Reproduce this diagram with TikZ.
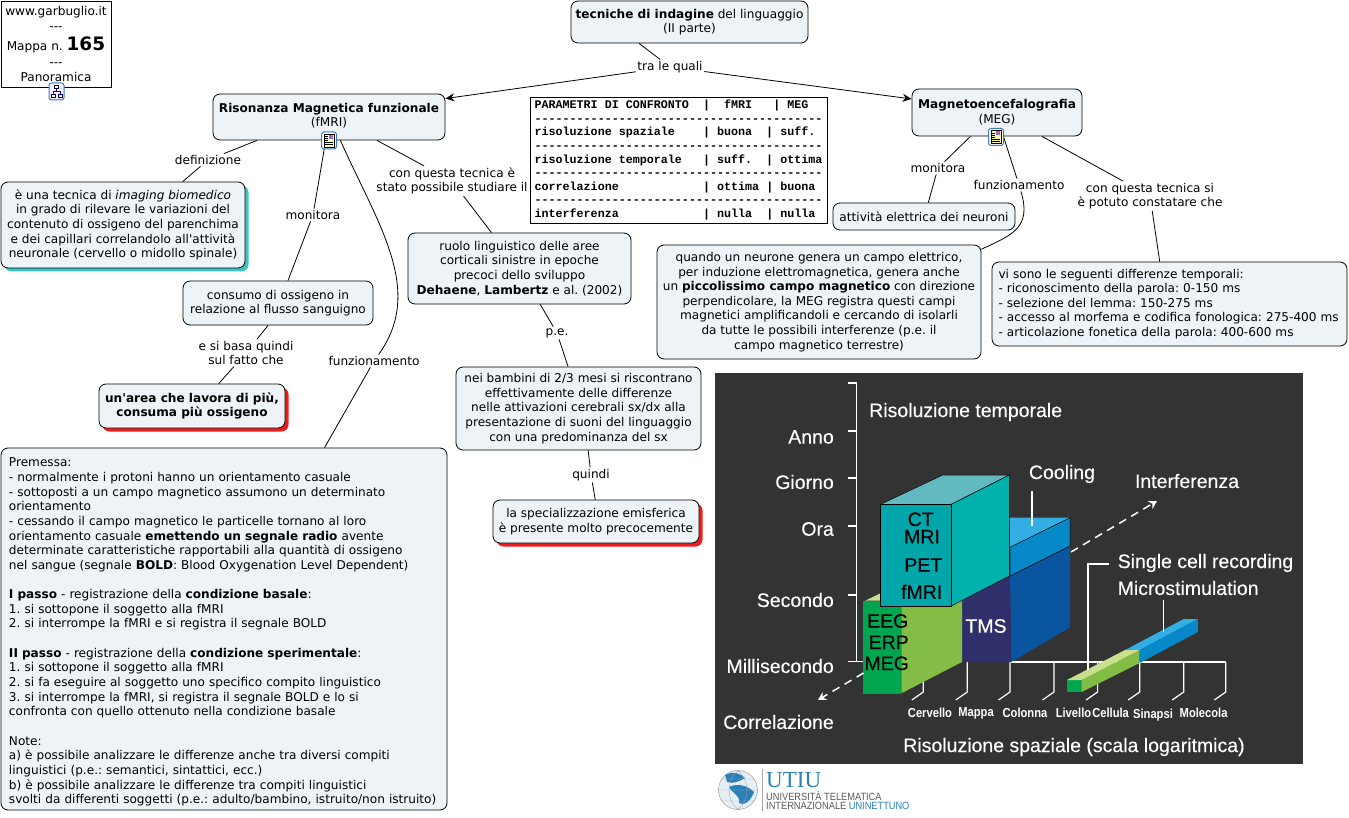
\documentclass[tikz,border=0pt]{standalone}
\usepackage{fontspec}
\usepackage{xcolor}
\usetikzlibrary{arrows.meta,shadows}
\newfontfamily\mapfont{DejaVu Sans}
\newfontfamily\tabfont{Liberation Mono}
\newfontfamily\imgfont{Liberation Sans}[FakeBold=0.25]
\newfontfamily\imgnarrow{Liberation Sans}[FakeStretch=0.86]
\newfontfamily\logofont{Liberation Sans}[FakeStretch=0.88]
\newfontfamily\logoserif{Liberation Serif}
\newcommand\mapsize{\mapfont\fontsize{12.1}{14.65}\selectfont}
\newcommand\tabrule{-----------------------------------------}
\definecolor{boxfill}{HTML}{EDF3F6}
\definecolor{tealshadow}{HTML}{3FC4C4}
\definecolor{redshadow}{HTML}{EE1C1C}
\definecolor{imgdark}{HTML}{333333}
\definecolor{logoblue}{HTML}{2A7FB8}
\definecolor{iconblue}{HTML}{3C78C8}
\definecolor{ctfront}{HTML}{00A6AA}
\definecolor{ctside}{HTML}{00B0AD}
\definecolor{cttop}{HTML}{62BAC0}
\definecolor{coolside}{HTML}{0788C9}
\definecolor{cooltop}{HTML}{33AEE3}
\definecolor{deepblue}{HTML}{0A559F}
\definecolor{tmsfront}{HTML}{2F2F6B}
\definecolor{eegfront}{HTML}{00A64F}
\definecolor{eegside}{HTML}{83BD46}
\definecolor{eegtop}{HTML}{C8DF8E}
\tikzset{
  mapbox/.style={draw, fill=boxfill, rounded corners=7pt, align=center, inner sep=0pt, font=\mapsize, line width=.8pt},
  linkword/.style={fill=white, align=center, inner sep=1.5pt, font=\mapsize},
  link/.style={line width=.8pt},
  imglabel/.style={text=white, inner sep=0pt, font=\imgfont\fontsize{19.5}{21}\selectfont},
  scalelabel/.style={text=white, inner sep=0pt, font=\imgnarrow\bfseries\fontsize{13}{15}\selectfont},
  blocklabel/.style={text=black, inner sep=0pt, font=\imgfont\fontsize{19.5}{21}\selectfont},
  whiteline/.style={white, line width=1.2pt},
  dashline/.style={white, line width=1.5pt, dash pattern=on 8pt off 6pt, -{Stealth[length=8pt,width=9pt]}},
  noteicon/.pic={
    \draw[draw=iconblue, fill=white, rounded corners=2.5pt, line width=1pt] (-7.5,-8.5) rectangle (7.5,8.5);
    \draw[fill=yellow!35, line width=.6pt] (-5,-6.5) rectangle (5,6.5);
    \fill[blue!55] (0,-5.5) rectangle (4,-1.5);
    \fill[red!70] (2,-5) rectangle (4,-3);
    \foreach \ly in {-4,-2,0,2,4} \draw[line width=.7pt] (-4,\ly) -- (\ifnum\ly<1 -1\else 4\fi,\ly);
  },
  treeicon/.pic={
    \draw[draw=iconblue, fill=blue!6, rounded corners=2.5pt, line width=1pt] (-7.5,-8.5) rectangle (7.5,8.5);
    \draw[blue!40!black, line width=.6pt] (0,-3) -- (0,0) (-3.5,3) -- (-3.5,0) -- (3.5,0) -- (3.5,3);
    \draw[blue!40!black, fill=yellow!30, line width=.6pt] (-2,-6.5) rectangle (2,-3) (-5.5,2.5) rectangle (-1.5,6) (1.5,2.5) rectangle (5.5,6);
  }
}
\frenchspacing
\begin{document}
\begin{tikzpicture}[x=1pt, y=-1pt]
  \useasboundingbox (0,0) rectangle (1349,818);

  % concept map
  \node[draw, fill=white, align=center, inner sep=0pt, font=\mapsize, line width=.8pt, minimum width=110pt, minimum height=86pt] (sito) at (56,44)
    {www.garbuglio.it\\---\\[5pt]Mappa n. {\bfseries\fontsize{18.5}{14.65}\selectfont 165}\\[2pt]---\\Panoramica};
  \node[mapbox, minimum width=237pt, minimum height=42pt] (tecniche) at (689.5,22)
    {{\bfseries tecniche di indagine} del linguaggio\\(II parte)};
  \node[linkword] (trale) at (670,67) {tra le quali};
  \node[mapbox, minimum width=232pt, minimum height=46pt] (risonanza) at (329,117)
    {{\bfseries Risonanza Magnetica funzionale}\\(fMRI)\rule[-4pt]{0pt}{0pt}};
  \node[mapbox, minimum width=170pt, minimum height=47pt] (magneto) at (997,112.5)
    {{\bfseries Magnetoencefalografia}\\(MEG)\rule[-2pt]{0pt}{0pt}};
  \node[linkword] (definizione) at (208,160) {definizione};
  \node[mapbox, minimum width=244pt, minimum height=86pt, copy shadow={shadow xshift=3.5pt, shadow yshift=-3.5pt, fill=tealshadow, draw=none}] (defbox) at (123,225)
    {è una tecnica di \textit{imaging biomedico}\\in grado di rilevare le variazioni del\\contenuto di ossigeno del parenchima\\e dei capillari correlandolo all'attività\\neuronale (cervello o midollo spinale)};
  \node[linkword] (monitoraf) at (313,215) {monitora};
  \node[mapbox, minimum width=190pt, minimum height=44pt] (consumo) at (278,303)
    {consumo di ossigeno in\\relazione al flusso sanguigno};
  \node[linkword] (sibasa) at (246,353) {e si basa quindi\\sul fatto che};
  \node[mapbox, minimum width=186pt, minimum height=44pt, copy shadow={shadow xshift=3.5pt, shadow yshift=-3.5pt, fill=redshadow, draw=none}] (area) at (192,406)
    {{\bfseries un'area che lavora di più,}\\{\bfseries consuma più ossigeno}};
  \node[linkword] (funzf) at (374,361) {funzionamento};
  \node[mapbox, align=left, minimum width=446pt, minimum height=362pt, text width=430pt] (premessa) at (224,629)
    {\rule{0pt}{15pt}Premessa:\\
    - normalmente i protoni hanno un orientamento casuale\\
    - sottoposti a un campo magnetico assumono un determinato\\
    orientamento\\
    - cessando il campo magnetico le particelle tornano al loro\\
    orientamento casuale {\bfseries emettendo un segnale radio} avente\\
    determinate caratteristiche rapportabili alla quantità di ossigeno\\
    nel sangue (segnale {\bfseries BOLD}: Blood Oxygenation Level Dependent)\\[14.65pt]
    {\bfseries I passo} - registrazione della {\bfseries condizione basale}:\\
    1. si sottopone il soggetto alla fMRI\\
    2. si interrompe la fMRI e si registra il segnale BOLD\\[14.65pt]
    {\bfseries II passo} - registrazione della {\bfseries condizione sperimentale}:\\
    1. si sottopone il soggetto alla fMRI\\
    2. si fa eseguire al soggetto uno specifico compito linguistico\\
    3. si interrompe la fMRI, si registra il segnale BOLD e lo si\\
    confronta con quello ottenuto nella condizione basale\\[14.65pt]
    Note:\\
    a) è possibile analizzare le differenze anche tra diversi compiti\\
    linguistici (p.e.: semantici, sintattici, ecc.)\\
    b) è possibile analizzare le differenze tra compiti linguistici\\
    svolti da differenti soggetti (p.e.: adulto/bambino, istruito/non istruito)};
  \node[linkword] (studiare) at (452,181) {con questa tecnica è\\stato possibile studiare il};
  \node[mapbox, minimum width=223pt, minimum height=71pt] (ruolo) at (519.5,268.5)
    {ruolo linguistico delle aree\\corticali sinistre in epoche\\precoci dello sviluppo\\{\bfseries Dehaene}, {\bfseries Lambertz} e al. (2002)};
  \node[linkword] (pe) at (557,333) {p.e.};
  \node[mapbox, minimum width=245pt, minimum height=83pt] (bambini) at (578.5,408.5)
    {nei bambini di 2/3 mesi si riscontrano\\effettivamente delle differenze\\nelle attivazioni cerebrali sx/dx alla\\presentazione di suoni del linguaggio\\con una predominanza del sx};
  \node[linkword] (quindi) at (591,475) {quindi};
  \node[mapbox, minimum width=206pt, minimum height=43pt, copy shadow={shadow xshift=3.5pt, shadow yshift=-3.5pt, fill=redshadow, draw=none}] (special) at (596,521.5)
    {la specializzazione emisferica\\è presente molto precocemente};
  \node[draw, fill=white, align=left, inner sep=0pt, line width=.8pt, minimum width=297pt, minimum height=126pt, font=\tabfont\bfseries\fontsize{11.7}{13.6}\selectfont] (tabella) at (678.5,160)
    {PARAMETRI DI CONFRONTO~~|~~fMRI~~~|~MEG~~~\\
    \tabrule\\
    risoluzione spaziale~~~~|~buona~~|~suff.~\\
    \tabrule\\
    risoluzione temporale~~~|~suff.~~|~ottima\\
    \tabrule\\
    correlazione~~~~~~~~~~~~|~ottima~|~buona~\\
    \tabrule\\
    interferenza~~~~~~~~~~~~|~nulla~~|~nulla~};
  \node[linkword] (monitoram) at (938,168) {monitora};
  \node[mapbox, minimum width=182pt, minimum height=27pt] (attivita) at (924,216.5) {attività elettrica dei neuroni};
  \node[linkword] (funzm) at (1019,185) {funzionamento};
  \node[mapbox, minimum width=324pt, minimum height=114pt] (quando) at (819,302)
    {quando un neurone genera un campo elettrico,\\per induzione elettromagnetica, genera anche\\un {\bfseries piccolissimo campo magnetico} con direzione\\perpendicolare, la MEG registra questi campi\\magnetici amplificandoli e cercando di isolarli\\da tutte le possibili interferenze (p.e. il\\campo magnetico terrestre)};
  \node[linkword] (constatare) at (1150,196) {con questa tecnica si\\è potuto constatare che};
  \node[mapbox, align=left, minimum width=355pt, minimum height=84pt, text width=342pt] (differenze) at (1169.5,304)
    {vi sono le seguenti differenze temporali:\\
    - riconoscimento della parola: 0-150 ms\\
    - selezione del lemma: 150-275 ms\\
    - accesso al morfema e codifica fonologica: 275-400 ms\\
    - articolazione fonetica della parola: 400-600 ms};

  \draw[link] (tecniche.203) -- (trale);
  \draw[link, -{Stealth[length=9pt,width=8pt]}] (trale) -- (risonanza.9);
  \draw[link, -{Stealth[length=9pt,width=8pt]}] (trale) -- (magneto.171);
  \draw[link] (risonanza.198) -- (definizione);
  \draw[link] (definizione) -- (defbox.36);
  \draw[link] (risonanza.262) -- (monitoraf);
  \draw[link] (monitoraf) -- (consumo.66);
  \draw[link] (consumo.246) -- (sibasa);
  \draw[link] (sibasa) -- (area.40);
  \draw[link] (risonanza.296) .. controls (378,225) and (425,290) .. (funzf);
  \draw[link] (funzf) -- (premessa.61);
  \draw[link] (risonanza.334) -- (studiare);
  \draw[link] (studiare) -- (ruolo.128);
  \draw[link] (ruolo.300) -- (pe);
  \draw[link] (pe) -- (bambini.104);
  \draw[link] (bambini.283) -- (quindi);
  \draw[link] (quindi) -- (special.92);
  \draw[link] (magneto.222) -- (monitoram);
  \draw[link] (monitoram) -- (attivita.73);
  \draw[link] (magneto.285) -- (funzm);
  \draw[link] (funzm) .. controls (1032,228) and (1012,235) .. (quando.18);
  \draw[link] (magneto.332) -- (constatare);
  \draw[link] (constatare) -- (differenze.103);

  \pic at (56.5,91.5) {treeicon};
  \pic at (329,140.5) {noteicon};
  \pic at (996,137) {noteicon};

  % picture of the techniques
  \fill[imgdark] (715,373) rectangle (1303,764);
  \draw[whiteline] (848,383) -- (856.7,383) -- (856.7,661.5) (848,661.5) -- (864,661.5)
    (848,431) -- (856.7,431) (848,478) -- (856.7,478) (848,526) -- (856.7,526) (848,595) -- (856.7,595);
  \draw[whiteline] (1011,662) -- (1226,662);
  \foreach \tx in {923.3,967.3,1010,1054,1097.6,1139.7,1183.7,1225.8}
    \draw[whiteline] (\tx,662) -- (\tx,692) -- (\tx-11.5,700);
  \node[imglabel, anchor=east] (anno) at (834,437) {Anno};
  \node[imglabel, anchor=east] (giorno) at (834,482) {Giorno};
  \node[imglabel, anchor=east] (ora) at (834,529) {Ora};
  \node[imglabel, anchor=east] (secondo) at (834,600) {Secondo};
  \node[imglabel, anchor=east] (milli) at (834,666) {Millisecondo};
  \node[imglabel, anchor=east] (correlazione) at (834,722) {Correlazione};
  \node[imglabel, anchor=west] (temporale) at (869,412) {Risoluzione temporale};
  \node[imglabel] (cooling) at (1062,474) {Cooling};
  \node[imglabel] (interferenza) at (1187,481) {Interferenza};
  \node[imglabel, anchor=west] (single) at (1117.5,563) {Single cell recording};
  \node[imglabel, anchor=west] (micro) at (1117.5,588) {Microstimulation};
  \node[imglabel] (spaziale) at (1074,747) {Risoluzione spaziale (scala logaritmica)};
  \node[scalelabel] (cervello) at (930,713) {Cervello};
  \node[scalelabel] (mappa) at (976,713) {Mappa};
  \node[scalelabel] (colonna) at (1025,713) {Colonna};
  \node[scalelabel] (livello) at (1073.5,713) {Livello};
  \node[scalelabel] (cellula) at (1110.6,713) {Cellula};
  \node[scalelabel] (sinapsi) at (1153,715) {Sinapsi};
  \node[scalelabel] (molecola) at (1203.6,713) {Molecola};

  % blocks
  \fill[deepblue] (1010,576) -- (1070,546) -- (1070,627.3) -- (1011.3,662) -- cycle;
  \fill[tmsfront] (962,600.7) -- (1010,576) -- (1011.3,662) -- (962,662) -- cycle;
  \fill[eegside] (901.3,600) -- (962,600) -- (962,662) -- (901.3,693.3) -- cycle;
  \fill[eegfront] (863.3,600.7) rectangle (901.3,694);
  \fill[eegtop] (865,600.7) -- (880.7,593.3) -- (880.7,600.7) -- cycle;
  \fill[cooltop] (1009.3,517.7) -- (1070,517.7) -- (1010,547.3) -- cycle;
  \draw[black, line width=.5pt, fill=coolside] (1010,547.3) -- (1070,517.7) -- (1070,546) -- (1010,576) -- cycle;
  \draw[black, line width=.5pt, fill=cttop] (880.7,504.3) -- (942.7,475) -- (1009.3,475) -- (951.3,504.3) -- cycle;
  \draw[black, line width=.5pt, fill=ctside] (951.3,504.3) -- (1009.3,475) -- (1009.3,576) -- (951.3,606) -- cycle;
  \draw[black, line width=.5pt, fill=ctfront] (880.7,504.3) rectangle (951.3,606);
  \node[blocklabel] (ct) at (920.7,519.3) {CT};
  \node[blocklabel] (mri) at (922,536.7) {MRI};
  \node[blocklabel] (pet) at (923.3,565) {PET};
  \node[blocklabel] (fmri) at (921.7,591.7) {fMRI};
  \node[blocklabel] (eeg) at (887.7,621) {EEG};
  \node[blocklabel] (erp) at (888.7,642.3) {ERP};
  \node[blocklabel] (meg) at (886.7,663.3) {MEG};
  \node[imglabel] (tms) at (986,626) {TMS};

  % small bars
  \fill[eegfront] (1067,680) rectangle (1081.5,692);
  \fill[eegside] (1081.5,680) -- (1139.7,650) -- (1139.7,663) -- (1081.5,692) -- cycle;
  \fill[eegtop] (1067,680) -- (1126,649.5) -- (1139.7,650) -- (1081.5,680) -- cycle;
  \fill[cooltop] (1126,649.5) -- (1183.7,619) -- (1197.8,619) -- (1139.7,650) -- cycle;
  \fill[coolside] (1139.7,650) -- (1197.8,619) -- (1197.8,632) -- (1139.7,663) -- cycle;

  % pointers
  \draw[whiteline] (1032,491) -- (1032,526);
  \draw[whiteline] (1109,564) -- (1088,564) -- (1088,670);
  \draw[whiteline] (1163.4,600) -- (1163.4,632);
  \draw[dashline] (1071,552) -- (1157,501);
  \draw[dashline] (863.5,673) -- (818,700);

  % logo
  \draw[black!35, fill=logoblue!12, line width=.6pt] (738,790) circle (19.5);
  \fill[logoblue] (725,775) .. controls (733,771) and (740,773) .. (745,778) .. controls (738,782) and (733,784) .. (727,782) -- cycle;
  \fill[logoblue] (729,787) .. controls (737,783) and (747,785) .. (754,792) .. controls (750,802) and (744,806) .. (739,803) .. controls (741,796) and (733,794) .. (729,787) -- cycle;
  \draw[black!35, line width=.4pt] (738,770.5) .. controls (726,780) and (726,800) .. (738,809.5) .. controls (750,800) and (750,780) .. (738,770.5)
    (718.5,790) -- (757.5,790) (722,779) -- (754,779) (722,801) -- (754,801);
  \draw[black!35, line width=.8pt] (762,769) -- (762,811);
  \node[anchor=west, inner sep=0pt, text=logoblue, font=\logoserif\fontsize{23}{24}\selectfont] (utiu) at (766,780) {UTIU};
  \node[anchor=west, inner sep=0pt, text=black!65, font=\logofont\fontsize{10.5}{11}\selectfont] (uni) at (766,795.5) {UNIVERSITÀ TELEMATICA};
  \node[anchor=west, inner sep=0pt, text=black!65, font=\logofont\fontsize{10.5}{11}\selectfont] (inter) at (766,805.5) {INTERNAZIONALE \textcolor{logoblue}{UNINETTUNO}};
\end{tikzpicture}
\end{document}
